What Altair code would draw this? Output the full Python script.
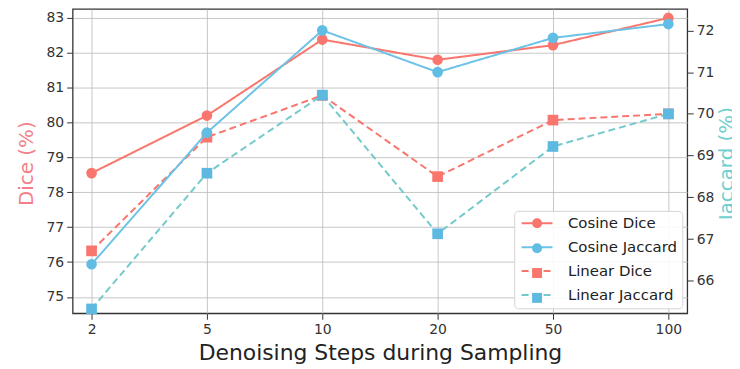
import altair as alt
import pandas as pd

steps = ["2", "5", "10", "20", "50", "100"]
cosine_dice = [78.55, 80.2, 82.38, 81.8, 82.22, 83.0]
linear_dice = [76.32, 79.58, 80.78, 78.45, 80.07, 80.25]
cosine_jaccard = [66.4, 69.55, 72.0, 71.0, 71.82, 72.15]
linear_jaccard = [65.33, 68.58, 70.45, 67.13, 69.22, 70.0]

series_names = ["Cosine Dice", "Cosine Jaccard", "Linear Dice", "Linear Jaccard"]
series_metric = ["Dice", "Jaccard", "Dice", "Jaccard"]
series_values = [cosine_dice, cosine_jaccard, linear_dice, linear_jaccard]
line_colors = ["#F8766D", "#6CC3E6", "#F8766D", "#74CACB"]
marker_colors = ["#F8766D", "#62BDE4", "#F8766D", "#5DB9E0"]
marker_shapes = ["circle", "circle", "square", "square"]
dashes = [[1, 0], [1, 0], [7, 4], [7, 4]]

dice_ticks = [75, 76, 77, 78, 79, 80, 81, 82, 83]
jac_ticks = [66, 67, 68, 69, 70, 71, 72]
dice_domain = [74.53, 83.257]
jac_domain = [65.226, 72.512]

marker_names = [n + " " for n in series_names]

rows = []
for name, mname, metric, vals in zip(series_names, marker_names, series_metric, series_values):
    for s, v in zip(steps, vals):
        rows.append({"step": s, "series": name, "marker_series": mname,
                     "metric": metric, "value": v})
df = pd.DataFrame(rows)

legend_common = dict(
    title=None, orient="none", legendY=203,
    symbolSize=100, rowPadding=8, padding=5,
    labelFontSize=15, labelFont="DejaVu Sans", labelColor="#222",
)
legend_lines = alt.Legend(
    legendX=444, symbolType="M-1,0H5.2", symbolStrokeWidth=2, labelOffset=34,
    fillColor="rgba(255,255,255,0.88)", strokeColor="#d4d4d4", cornerRadius=4,
    **legend_common,
)
legend_markers = alt.Legend(
    legendX=454.5, labelOffset=34, labelExpr="''", symbolOpacity=1, zindex=2,
    **legend_common,
)

x_enc = alt.X(
    "step:O", sort=steps,
    scale=alt.Scale(type="point", domain=steps, padding=0.164),
    axis=alt.Axis(title="Denoising Steps during Sampling", labelAngle=0, grid=True,
                  titleY=39, titleBaseline="middle", titleFontSize=22,
                  titleColor="#222", titleFontWeight="normal"),
)
color_enc = alt.Color("series:N", scale=alt.Scale(domain=series_names, range=line_colors), legend=legend_lines)
dash_enc = alt.StrokeDash("series:N", scale=alt.Scale(domain=series_names, range=dashes), legend=legend_lines)
fill_enc = alt.Fill("marker_series:N", scale=alt.Scale(domain=marker_names, range=marker_colors), legend=legend_markers)
shape_enc = alt.Shape("marker_series:N", scale=alt.Scale(domain=marker_names, range=marker_shapes), legend=legend_markers)

base = alt.Chart(df)

y_dice = alt.Y("value:Q", scale=alt.Scale(domain=dice_domain, zero=False, nice=False),
               axis=alt.Axis(title="Dice (%)", orient="left", values=dice_ticks, grid=True,
                             titleColor="#F47F8A", titleFontSize=20, titleFontWeight="normal",
                             titleX=-46, titleY=155, titleAngle=270, titleAlign="center",
                             titleBaseline="middle"))
y_jac = alt.Y("value:Q", scale=alt.Scale(domain=jac_domain, zero=False, nice=False),
              axis=alt.Axis(title="Jaccard (%)", orient="right", values=jac_ticks, grid=False,
                            titleColor="#6FCFCF", titleFontSize=20, titleFontWeight="normal",
                            titleX=40, titleY=155, titleAngle=270, titleAlign="center",
                            titleBaseline="middle"))

def layer_for(metric, y_enc):
    sub = base.transform_filter(alt.datum.metric == metric)
    lines = sub.mark_line(strokeWidth=2).encode(
        x=x_enc, y=y_enc, color=color_enc, strokeDash=dash_enc, detail="series:N")
    pts = sub.mark_point(filled=True, size=115, opacity=1, strokeWidth=0).encode(
        x=x_enc, y=y_enc, fill=fill_enc, shape=shape_enc)
    return alt.layer(lines, pts)

dice_layer = layer_for("Dice", y_dice)
jac_layer = layer_for("Jaccard", y_jac)

chart = alt.layer(dice_layer, jac_layer).resolve_scale(y="independent").properties(
    width=618, height=306,
    padding={"left": 65, "top": 0, "right": 45, "bottom": 50},
    autosize=alt.AutoSizeParams(type="none"),
    background="white",
).configure_view(
    stroke="#333333", strokeWidth=1.3
).configure_axis(
    labelFont="DejaVu Sans", titleFont="DejaVu Sans", labelFontSize=14,
    labelColor="#333333", tickColor="#333333", tickSize=6, labelPadding=3,
    domain=False, gridColor="#b8b8b8", gridOpacity=0.8, gridWidth=1,
)

chart.save("out.html", embed_options={"renderer": "svg", "actions": False})
